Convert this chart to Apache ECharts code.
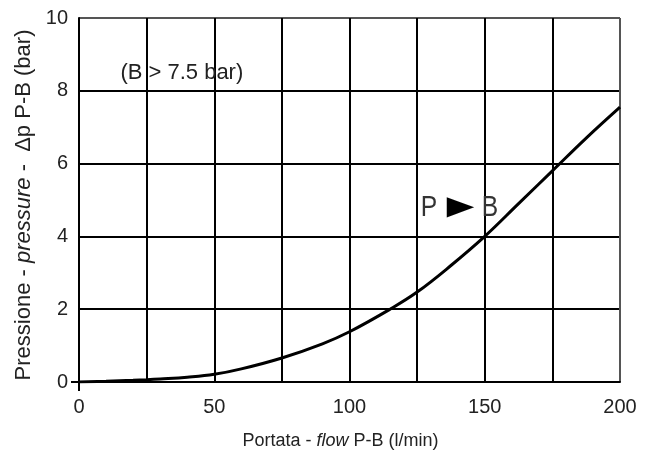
<!DOCTYPE html>
<html>
<head>
<meta charset="utf-8">
<script src="https://cdn.jsdelivr.net/npm/echarts@6/dist/echarts.min.js"></script>
<style>html,body{margin:0;padding:0;background:#fff;}#c{width:650px;height:455px;}</style>
</head>
<body>
<div id="c"></div>
<script>
// Flow P-B (l/min)
const flow = [0, 10, 20, 25, 30, 40, 50, 60, 75, 90, 100, 115, 125, 137.5, 150, 162.5, 175, 187.5, 200];
// Pressure drop P-B (bar)
const pressure = [0, 0.02, 0.045, 0.06, 0.08, 0.13, 0.21, 0.36, 0.66, 1.05, 1.38, 2.0, 2.47, 3.2, 4.0, 4.9, 5.8, 6.7, 7.55];
const xTicks = [0, 50, 100, 150, 200];
const yTicks = [0, 2, 4, 6, 8, 10];
const noteText = '(B > 7.5 bar)';
const curveLeft = 'P';
const curveArrow = '\u25BA';
const curveRight = 'B';
const notePos = [15.3, 8.5];
const curvePos = [126.3, 4.8];

const FONT = '"Liberation Sans", Arial, sans-serif';
const chart = echarts.init(document.getElementById('c'), null, {renderer: 'canvas'});
const xGridColors = ['#000','#000','#000','#000','#000','#000','#000','#000','#555'];
const yGridColors = ['#000','#000','#000','#000','#000','#555'];
chart.setOption({
  animation: false,
  backgroundColor: '#fff',
  grid: {left: 79, right: 30, top: 18, bottom: 73, containLabel: false},
  xAxis: {
    type: 'value', min: 0, max: 200, interval: 25,
    axisLine: {show: true, lineStyle: {color: '#000', width: 2}},
    axisTick: {show: false},
    splitLine: {show: true, lineStyle: {color: xGridColors, width: 2}},
    axisLabel: {
      margin: 15, fontFamily: FONT, fontSize: 20, color: '#222',
      formatter: v => xTicks.indexOf(v) >= 0 ? String(v) : ''
    },
    name: '{n|Portata - }{i|flow}{n| P-B (l/min)}',
    nameLocation: 'middle', nameGap: 50,
    nameTextStyle: {
      padding: [0, 18, 0, 0],
      rich: {
        n: {fontFamily: FONT, fontSize: 18, color: '#222'},
        i: {fontFamily: FONT, fontSize: 18, color: '#222', fontStyle: 'italic'}
      }
    }
  },
  yAxis: {
    type: 'value', min: 0, max: 10, interval: 2,
    axisLine: {show: true, lineStyle: {color: '#000', width: 2}},
    axisTick: {show: false},
    splitLine: {show: true, lineStyle: {color: yGridColors, width: 2}},
    axisLabel: {
      margin: 11, fontFamily: FONT, fontSize: 20, color: '#222',
      formatter: v => yTicks.indexOf(v) >= 0 ? String(v) : ''
    },
    name: '{n|Pressione - }{i|pressure}{n| -  \u0394p P-B (bar)}',
    nameLocation: 'middle', nameGap: 43,
    nameTextStyle: {
      padding: [0, 10, 0, 0],
      rich: {
        n: {fontFamily: FONT, fontSize: 22, color: '#222'},
        i: {fontFamily: FONT, fontSize: 22, color: '#222', fontStyle: 'italic'}
      }
    }
  },
  series: [{
    type: 'line',
    data: flow.map((f, i) => [f, pressure[i]]),
    smooth: 0.4,
    showSymbol: false,
    lineStyle: {color: '#000', width: 3},
    z: 5
  }]
});

function drawExtras() {
  const o = chart.convertToPixel({gridIndex: 0}, [0, 0]);
  const n = chart.convertToPixel({gridIndex: 0}, notePos);
  const c = chart.convertToPixel({gridIndex: 0}, curvePos);
  chart.setOption({
    graphic: [
      {type: 'line', shape: {x1: o[0], y1: o[1], x2: o[0], y2: o[1] + 9}, style: {stroke: '#000', lineWidth: 2}},
      {type: 'line', shape: {x1: o[0], y1: o[1], x2: o[0] - 8, y2: o[1]}, style: {stroke: '#000', lineWidth: 2}},
      {type: 'text', x: n[0], y: n[1], style: {text: noteText, font: '22px ' + FONT, fill: '#222', textVerticalAlign: 'middle', textAlign: 'left'}, z: 10},
      {type: 'text', x: c[0], y: c[1], scaleX: 0.82, style: {text: curveLeft, font: '30px ' + FONT, fill: '#333', textVerticalAlign: 'middle', textAlign: 'left'}, z: 10},
      {type: 'text', x: c[0] + 17, y: c[1], scaleX: 1.35, style: {text: curveArrow, font: '34px ' + FONT, fill: '#000', textVerticalAlign: 'middle', textAlign: 'left'}, z: 10},
      {type: 'text', x: c[0] + 61, y: c[1], scaleX: 0.82, style: {text: curveRight, font: '30px ' + FONT, fill: '#333', textVerticalAlign: 'middle', textAlign: 'left'}, z: 10}
    ]
  });
}
drawExtras();
</script>
</body>
</html>
